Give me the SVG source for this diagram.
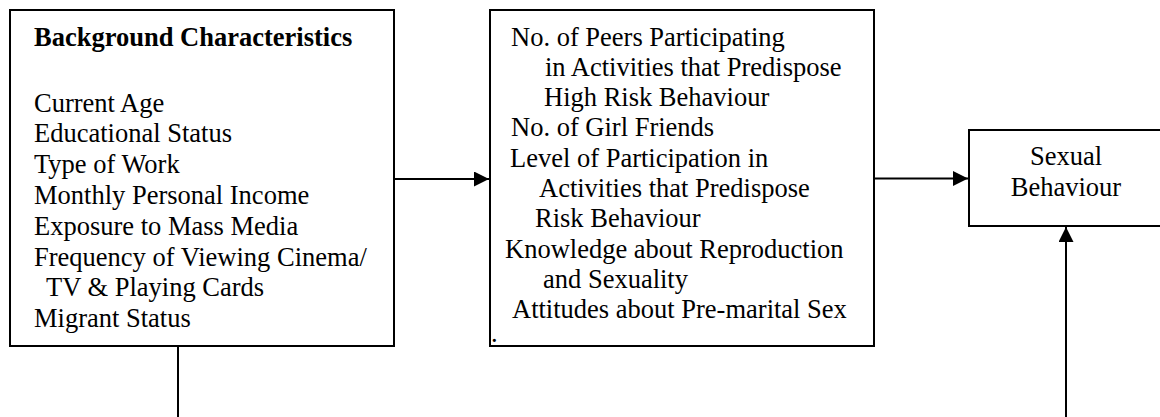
<svg xmlns="http://www.w3.org/2000/svg" width="1160" height="417" viewBox="0 0 1160 417">
<style>
.box{fill:#fff;stroke:#000;stroke-width:2}
.t{font-family:"Liberation Serif","Times New Roman",serif;font-size:26.5px;fill:#000}
.b{font-weight:bold}
.c{text-anchor:middle}
.ln{stroke:#000;stroke-width:2;fill:none}
</style>
<defs>
<marker id="ah" markerUnits="userSpaceOnUse" markerWidth="16" markerHeight="16" refX="15" refY="7.5" orient="auto">
<path d="M0,0 L15,7.5 L0,15 z" fill="#000"/>
</marker>
</defs>
<rect width="1160" height="417" fill="#fff"/>
<g id="background">
<rect class="box" x="10" y="10" width="384" height="336"/>
<text class="t b" x="34" y="46">Background Characteristics</text>
<text class="t" x="34" y="111.5">Current Age</text>
<text class="t" x="34" y="142.3">Educational Status</text>
<text class="t" x="34" y="173.1">Type of Work</text>
<text class="t" x="34" y="203.9">Monthly Personal Income</text>
<text class="t" x="34" y="234.7">Exposure to Mass Media</text>
<text class="t" x="34" y="265.5">Frequency of Viewing Cinema/</text>
<text class="t" x="46" y="296.3">TV &amp; Playing Cards</text>
<text class="t" x="34" y="327.1">Migrant Status</text>
</g>
<g id="intermediate">
<rect class="box" x="490" y="10" width="384" height="336"/>
<text class="t" x="511" y="45.5">No. of Peers Participating</text>
<text class="t" x="545" y="75.8">in Activities that Predispose</text>
<text class="t" x="544" y="106.1">High Risk Behaviour</text>
<text class="t" x="511" y="136.4">No. of Girl Friends</text>
<text class="t" x="510" y="166.7">Level of Participation in</text>
<text class="t" x="539" y="197">Activities that Predispose</text>
<text class="t" x="535" y="227.3">Risk Behaviour</text>
<text class="t" x="505" y="257.6">Knowledge about Reproduction</text>
<text class="t" x="543" y="287.9">and Sexuality</text>
<text class="t" x="512" y="318.2">Attitudes about Pre-marital Sex</text>
<text class="t" x="491" y="342">.</text>
</g>
<g id="outcome">
<rect class="box" x="969" y="130" width="200" height="96"/>
<text class="t c" x="1066" y="165">Sexual</text>
<text class="t c" x="1066" y="196">Behaviour</text>
</g>
<g id="connectors">
<line class="ln" x1="394" y1="179" x2="489" y2="179" marker-end="url(#ah)"/>
<line class="ln" x1="874" y1="178.5" x2="968" y2="178.5" marker-end="url(#ah)"/>
<line class="ln" x1="1066" y1="417" x2="1066" y2="227" marker-end="url(#ah)"/>
<line class="ln" x1="178" y1="346" x2="178" y2="417"/>
</g>
</svg>
